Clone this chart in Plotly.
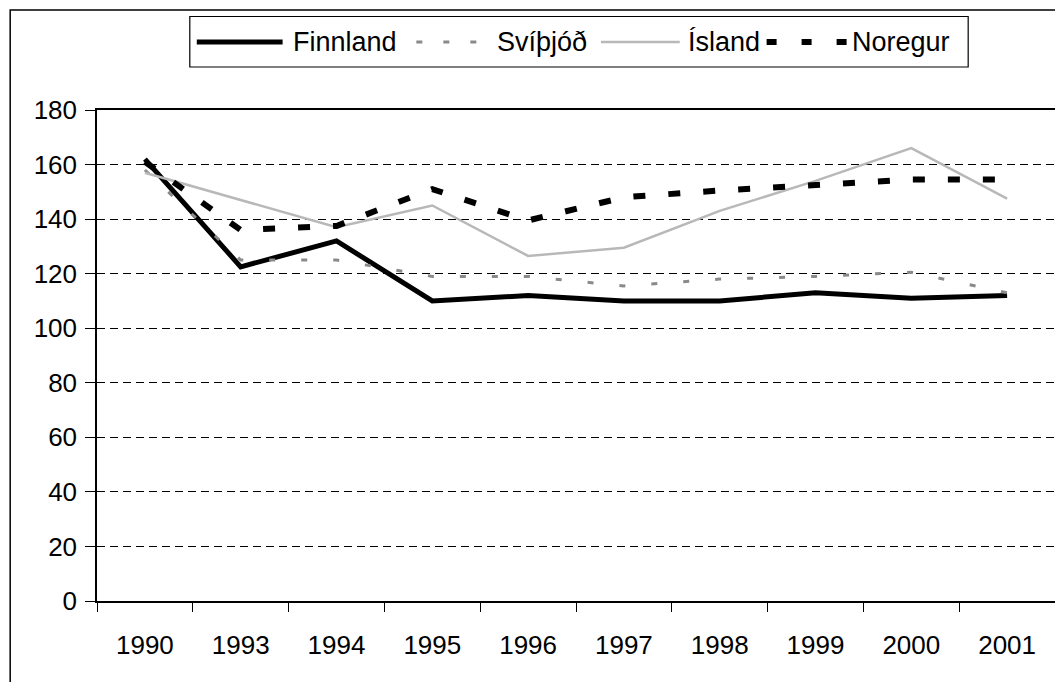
import plotly.graph_objects as go

# ---- data ----
years = ["1990", "1993", "1994", "1995", "1996", "1997", "1998", "1999", "2000", "2001"]
series_names = ["Finnland", "Svíþjóð", "Ísland", "Noregur"]
finnland = [162, 122.5, 132, 110, 112, 110, 110, 113, 111, 112]
svithjod = [158, 125, 125, 119, 119, 115.5, 118, 119, 120.5, 113]
island = [157, 147, 137, 145, 126.5, 129.5, 143, 154, 166, 147.5]
noregur = [161, 136, 137.5, 151, 139.5, 148, 150.5, 152.5, 154.5, 154.5]
y_ticks = [0, 20, 40, 60, 80, 100, 120, 140, 160, 180]

# ---- styles / layout (screen pixels; page body adds an 8px offset) ----
OFF = 8
W, H = 1063 - OFF, 682 - OFF
PLOT_L, PLOT_R, PLOT_T, PLOT_B = 97, 1057, 110, 601
ML = PLOT_L - OFF
MT = PLOT_T - OFF
MR = W - (PLOT_R - OFF)
MB = H - (PLOT_B - OFF)
PW, PH = PLOT_R - PLOT_L, PLOT_B - PLOT_T
FONT = "Liberation Sans, Arial, sans-serif"

styles = [
    dict(color="black", width=5, dash="solid"),
    dict(color="#8a8a8a", width=3, dash="6px,26px"),
    dict(color="#b8b8b8", width=2.5, dash="solid"),
    dict(color="black", width=6, dash="12px,23px"),
]
legend_styles = [
    dict(color="black", width=5, dash="solid"),
    dict(color="#8a8a8a", width=3, dash="6px,21px"),
    dict(color="#b8b8b8", width=2.5, dash="solid"),
    dict(color="black", width=6, dash="10px,25px"),
]
values = [finnland, svithjod, island, noregur]

fig = go.Figure()
for name, vals, st in zip(series_names, values, styles):
    fig.add_trace(go.Scatter(x=years, y=vals, mode="lines", name=name,
                             line=st, showlegend=False))


def px_x(px):
    return (px - PLOT_L) / PW


def px_y(py):
    return (PLOT_B - py) / PH


shapes = []
annotations = []
# outer chart frame
shapes.append(dict(type="rect", xref="paper", yref="paper",
                   x0=px_x(10), x1=px_x(1075), y0=px_y(695), y1=px_y(10),
                   line=dict(color="black", width=1.5), fillcolor="rgba(0,0,0,0)"))
# legend box
shapes.append(dict(type="rect", xref="paper", yref="paper",
                   x0=px_x(190), x1=px_x(970), y0=px_y(67), y1=px_y(16.5),
                   line=dict(color="black", width=1.2), fillcolor="white"))
# legend entries (sample start, sample end, text start) in screen pixels
legend_pos = [(197, 283, 291), (417, 480, 496), (602, 681, 687), (768, 850, 852)]
ly = 42
for name, st, (s0, s1, t0) in zip(series_names, legend_styles, legend_pos):
    shapes.append(dict(type="line", xref="paper", yref="paper",
                       x0=px_x(s0), x1=px_x(s1), y0=px_y(ly), y1=px_y(ly),
                       line=st))
    annotations.append(dict(xref="paper", yref="paper", x=px_x(t0), y=px_y(ly),
                            text=name, showarrow=False, xanchor="left",
                            yanchor="middle",
                            font=dict(family=FONT, size=27, color="black")))

fig.update_layout(
    width=W, height=H,
    margin=dict(l=ML, r=MR, t=MT, b=MB, pad=0),
    paper_bgcolor="white", plot_bgcolor="white",
    font=dict(family=FONT, size=26, color="black"),
    shapes=shapes, annotations=annotations,
    showlegend=False,
)
fig.update_xaxes(
    type="category", range=[-0.5, len(years) - 0.5], tickson="boundaries",
    ticks="outside", ticklen=9,
    tickwidth=1, tickcolor="black", showline=True, linecolor="black",
    linewidth=1.5, mirror=True, showgrid=False, ticklabelstandoff=20,
    tickfont=dict(family=FONT, size=26, color="black"),
)
fig.update_yaxes(
    range=[0, 180], tickvals=y_ticks, ticks="outside", ticklen=10,
    tickwidth=1, tickcolor="black", showline=True, linecolor="black",
    linewidth=1.5, mirror=True, showgrid=True, gridcolor="black",
    gridwidth=1, griddash="8px,5px", zeroline=False, ticklabelstandoff=3,
    tickfont=dict(family=FONT, size=26, color="black"),
)

fig.write_html("out.html")
